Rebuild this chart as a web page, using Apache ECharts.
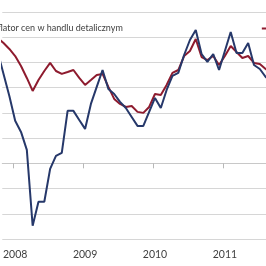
<!DOCTYPE html>
<html>
<head>
<meta charset="utf-8">
<script src="https://cdn.jsdelivr.net/npm/echarts@6/dist/echarts.min.js"></script>
<style>html,body{margin:0;padding:0;background:#fff;}#c{width:266px;height:266px;}</style>
</head>
<body>
<div id="c"></div>
<script>
// Months (YYYY-MM), visible window roughly Nov 2007 .. Aug 2011
var months = ['2007-10','2007-11','2007-12',
  '2008-01','2008-02','2008-03','2008-04','2008-05','2008-06','2008-07','2008-08','2008-09','2008-10','2008-11','2008-12',
  '2009-01','2009-02','2009-03','2009-04','2009-05','2009-06','2009-07','2009-08','2009-09','2009-10','2009-11','2009-12',
  '2010-01','2010-02','2010-03','2010-04','2010-05','2010-06','2010-07','2010-08','2010-09','2010-10','2010-11','2010-12',
  '2011-01','2011-02','2011-03','2011-04','2011-05','2011-06','2011-07','2011-08','2011-09'];
var deflatorValues = [8.83,7.09,5.34,
  3.37,2.49,1.07,-4.95,-3.05,-3.05,-0.44,0.59,0.83,4.16,4.16,3.44,
  2.73,4.71,6.06,7.40,5.90,5.50,4.87,4.39,3.68,2.97,2.97,4.08,
  5.19,4.39,5.82,6.93,7.17,8.59,9.78,10.57,8.67,8.04,8.67,7.40,
  8.91,10.41,8.75,8.75,9.54,7.80,7.48,6.85,6.45];
var otherValues = [9.94,9.54,9.07,
  8.51,7.72,6.77,5.74,6.61,7.32,7.96,7.32,7.09,7.24,7.40,6.77,
  6.22,6.61,7.01,7.09,6.06,5.11,4.71,4.47,4.55,4.08,4.00,4.47,
  5.50,5.42,6.22,7.17,7.40,8.51,8.91,9.86,8.43,8.19,8.51,7.80,
  8.51,9.30,8.83,8.35,8.51,7.96,7.88,7.48,7.17];
var yearLabels = ['2008','2009','2010','2011'];
var seriesNames = ['Deflator cen w handlu detalicznym','Inflacja CPI'];

function monthIndex(s){var p=s.split('-');return (parseInt(p[0],10)-2008)*12+(parseInt(p[1],10)-1);}
function pairs(vals){return months.map(function(m,i){return [monthIndex(m),vals[i]];});}
var labelPos = yearLabels.map(function(y){return monthIndex(y+'-01');});
var tickPos = labelPos.map(function(v){return v-0.35;});

var chart = echarts.init(document.getElementById('c'), null, {renderer:'canvas'});
var font = 'Lato';
chart.setOption({
  animation:false,
  backgroundColor:'#ffffff',
  grid:{left:0,right:0,top:12,bottom:27,containLabel:false},
  legend:{
    left:-44, top:19, width:600, orient:'horizontal',
    itemWidth:20, itemHeight:2, itemGap:139,
    icon:'rect',
    textStyle:{fontFamily:font,fontSize:9,color:'#404040'},
    data:seriesNames
  },
  xAxis:[{
    type:'value', min:-2.213, max:43.06,
    axisLine:{show:false,onZero:false}, axisTick:{show:false}, splitLine:{show:false},
    axisLabel:{show:true, customValues:labelPos, margin:10,
      fontFamily:font, fontSize:10.5, color:'#404040',
      formatter:function(v){return String(2008+Math.round(v/12));}}
  },{
    type:'value', min:-2.213, max:43.06, position:'bottom',
    axisLine:{show:true,onZero:true,lineStyle:{color:'#c8c8c8',width:1}},
    axisTick:{show:true,customValues:tickPos,length:5,inside:false,lineStyle:{color:'#b8b8b8'}},
    axisLabel:{show:false}, splitLine:{show:false}
  }],
  yAxis:{
    type:'value', min:-6, max:12, interval:2,
    axisLine:{show:false}, axisTick:{show:false}, axisLabel:{show:false},
    splitLine:{show:true,lineStyle:{color:'#d6d6d6',width:1}}
  },
  series:[{
    name:seriesNames[0], type:'line', xAxisIndex:0, data:pairs(deflatorValues),
    showSymbol:false, symbol:'none', lineStyle:{color:'#26386a',width:2}, itemStyle:{color:'#26386a'}, z:3
  },{
    name:seriesNames[1], type:'line', xAxisIndex:0, data:pairs(otherValues),
    showSymbol:false, symbol:'none', lineStyle:{color:'#8e1b2e',width:2}, itemStyle:{color:'#8e1b2e'}, z:2
  }]
});
</script>
</body>
</html>
